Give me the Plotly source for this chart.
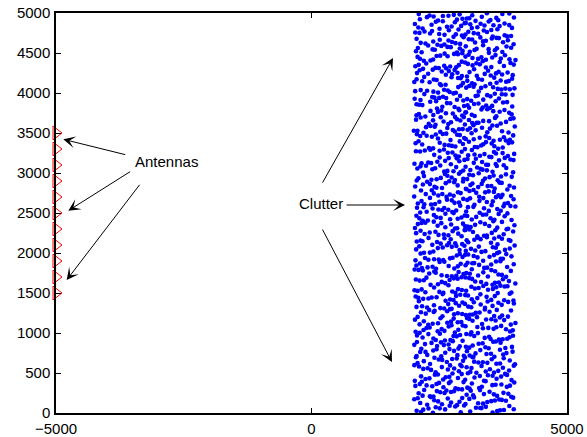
import plotly.graph_objects as go

# ---------------- data ----------------
antenna_x = [-5000, -5000, -5000, -5000, -5000, -5000, -5000, -5000, -5000, -5000, -5000]
antenna_y = [1500, 1700, 1900, 2100, 2300, 2500, 2700, 2900, 3100, 3300, 3500]

clutter_x = [
    2143,3871,2615,3302,2058,2987,3544,2431,3766,2290,3105,2812,3958,2376,3219,2704,3633,2509,3412,2921,2187,3690,2848,3327,
    3517,2264,3089,2731,3946,2402,3358,2079,2896,3672,2553,3181,2127,3805,2667,3440,2339,3013,3724,2478,2950,3261,2011,3589,
    2788,3632,2205,3374,2519,3908,2946,2097,3163,2641,3485,2317,3757,2872,3036,2453,3851,2174,3298,2730,3569,2386,3117,2604,
    3092,2446,3823,2159,3540,2690,3281,2033,2975,3716,2581,3407,2252,3139,2818,3968,2363,3602,2721,3050,2496,3884,2120,3334,
    2577,3295,2022,3789,2866,3453,2231,3061,2697,3915,2414,3190,2940,3622,2145,3376,2759,3544,2308,3826,2625,3007,2473,3711,
    3655,2104,3227,2792,3959,2340,3108,2551,3492,2013,2885,3746,2429,3327,2669,3036,3867,2273,3573,2938,2187,3410,2712,3131,
    2320,3762,2649,3148,2075,3527,2913,3880,2406,3265,2753,3619,2198,3004,3441,2557,3982,2842,3183,2044,3690,2491,3352,2966,
    3815,2539,3042,2266,3688,2981,2127,3424,2700,3579,2383,3210,2856,3935,2057,3303,2617,3751,2447,3096,2789,3512,2231,3169,
    2458,3349,2876,3607,2012,3088,2534,3923,2221,3467,2765,3154,2349,3794,2683,3022,3556,2149,3271,2901,3701,2590,3403,2063,
    3184,2719,3876,2287,3505,2065,2957,3390,2512,3668,2842,3109,2385,3943,2611,3257,2174,3741,2908,3476,2432,3030,3830,2779,
    2601,3460,2117,3712,2874,3246,2037,3563,2740,3939,2313,3128,2685,3807,2469,3355,2959,2192,3617,2806,3014,2547,3886,2250,
    3338,2025,2931,3686,2476,3152,2783,3901,2198,3519,2657,3043,2371,3770,2862,3239,2115,3602,2524,3991,2730,3087,2284,3417,
    2864,3575,2301,3098,2655,3843,2142,3392,2948,3730,2410,3215,2077,3484,2791,3626,2236,3021,3904,2563,3289,2710,3158,2391,
    3722,2262,3177,2597,3960,2888,3447,2055,3311,2742,3657,2164,3003,2521,3849,2397,3126,2823,3543,2102,3396,2676,3067,2955,
    2186,3063,2624,3879,2352,3518,2911,3245,2038,3771,2567,3137,2830,3644,2289,3426,2713,3009,3952,2448,3305,2091,3587,2779,
    3455,2816,3128,2075,3697,2503,3271,2942,3834,2228,3550,2681,3026,2399,3912,2155,3362,2754,3614,2016,3197,2581,3779,2867,
    2703,3989,2249,3319,2860,3542,2116,3085,2618,3746,2475,3204,2937,3667,2043,3421,2785,3864,2330,3143,2549,3013,3591,2198,
    3261,2431,3808,2097,2974,3593,2651,3137,2304,3726,2879,3452,2178,3029,2546,3901,2745,3362,2019,3659,2402,3098,2833,3518,
    2369,3147,2795,3611,2053,3437,2920,3828,2507,3280,2161,3054,2684,3958,2438,3696,2864,3185,2271,3516,2600,3380,3015,2122,
    3913,2578,3066,2222,3359,2844,3702,2135,3249,2490,3571,2956,2035,3812,2711,3174,2399,3633,2762,3007,2288,3484,2901,3745,
    2472,3327,2109,3786,2654,3020,3549,2317,3880,2835,3204,2568,3671,2048,2993,3402,2746,3121,2201,3608,2897,3975,2384,3275,
    3068,2725,3640,2290,3893,2528,3186,2060,3431,2813,3727,2364,3037,2601,3513,2172,3309,2948,3862,2457,3251,2691,2136,3576,
    2214,3597,2938,3160,2486,3819,2047,3376,2762,3670,2313,3012,2590,3946,2871,3245,2134,3528,2679,3090,3761,2425,3432,2996,
    3636,2081,3305,2850,3971,2540,3115,2393,3478,2732,3849,2227,3056,2965,3558,2619,3202,2025,3727,2468,3394,2809,2154,3007,
    2934,3418,2277,3780,2620,3136,2053,3504,2782,3915,2395,3223,2861,3663,2177,3047,2528,3352,2712,3834,2446,3580,2999,2110,
    2369,3027,3758,2558,3291,2193,3636,2910,3470,2065,2755,3893,2483,3168,2831,3525,2254,3377,2677,3990,2127,3062,3703,2597,
    3844,2652,3189,2318,3548,2081,2970,3431,2746,3705,2418,3103,2886,3287,2207,3955,2502,3610,2799,3049,2341,3362,2153,3779,
    2560,3282,2143,3657,2867,3035,3906,2395,3468,2708,3171,2010,3569,2919,2481,3832,2236,3399,2642,3093,3737,2354,3224,2781,
    3110,2445,3722,2029,2966,3585,2317,3263,2791,3876,2554,3149,2694,3447,2180,3021,3678,2408,3331,2860,3963,2262,3520,2627,
    2806,3564,2092,3357,2611,3919,2449,3087,2741,3644,2201,3273,2972,3485,2347,3805,2530,3160,2059,3709,2887,3395,2659,3046,
    3347,2183,3015,2778,3812,2520,3432,2071,2918,3626,2365,3242,2659,3945,2241,3108,2831,3543,2419,3762,2969,2132,3305,2597,
    2015,3670,2843,3176,2462,3521,2727,3892,2285,3052,3418,2616,3783,2154,2992,3339,2509,3605,2893,3217,2340,3953,2686,3455,
    3571,2401,3138,2883,3740,2044,3297,2592,3966,2758,3066,2217,3480,2939,3611,2325,3190,2507,3843,2668,3004,3385,2124,2817,
    2748,3857,2299,3415,2604,3195,2095,3653,2964,3320,2510,3742,2166,3081,2815,3526,2380,3925,2687,3246,2037,3578,2902,3360,
    3019,2569,3804,2128,3292,2851,3687,2356,3133,2476,3947,2720,3408,2063,2989,3563,2253,3764,2637,3175,2903,3477,2432,3883,
    2242,3440,2887,3631,2074,3101,2520,3978,2766,3337,2191,3540,2959,3729,2411,3212,2658,3855,2329,3056,3492,2804,3171,2003,
    3702,2913,2136,3268,2585,3891,2427,3081,2730,3592,2295,3360,2849,3002,3807,2529,3145,2046,3475,2677,3953,2378,3231,2981,
    2631,3193,3776,2384,3024,2810,3557,2102,3326,2949,3869,2540,3137,2227,3682,2766,3440,2055,3010,2892,3617,2473,3917,2329,
    3489,2055,2985,3749,2456,3267,2801,3603,2169,3084,2651,3928,2323,3418,2876,3182,2560,3826,2106,3350,2715,3535,2439,3054,
    2908,3362,2208,3669,2573,3124,3935,2406,3046,2779,3502,2133,3253,2635,3798,2971,2362,3438,2019,3587,2847,3212,2500,3725,
    2137,3555,2704,3088,3881,2477,3319,2029,2928,3646,2386,3171,2595,3971,2825,3403,2262,3028,3716,2536,3273,2871,3794,2667,
    3622,2449,3191,2918,3809,2057,3497,2740,3049,2311,3925,2624,3337,2166,3141,2868,3701,2513,3264,2012,3576,2965,2394,3860,
    2856,3235,2117,3730,2549,3042,3610,2372,3938,2688,3390,2205,3093,2801,3507,2064,3182,2629,3838,2943,3456,2282,3661,2754,
    3413,2098,3006,2635,3766,2246,3519,2940,3152,2427,3894,2714,3294,2183,3683,2597,3061,2831,3350,2032,3958,2491,3227,2883,
    2519,3874,2791,3150,2329,3600,2076,3413,2950,3705,2664,3075,2198,3537,2866,3260,2448,3992,2605,3324,2122,3786,3013,2380,
    3190,2661,3735,2282,3466,2044,3019,2847,3628,2414,3358,2957,3907,2155,3231,2540,3589,2725,3098,2369,3816,2082,3472,2902,
    2383,3529,2908,3304,2137,3842,2601,3078,2749,3667,2231,3412,2976,3201,2510,3955,2057,3357,2819,3622,2465,3143,3749,2681,
    3780,2212,3261,2877,3547,2031,3012,2688,3905,2359,3176,2779,3434,2498,3638,2944,2112,3372,2603,3069,3827,2320,3518,2825,
    2652,3107,3923,2433,3385,2175,2997,3681,2570,3245,2023,3561,2806,3137,2350,3778,2741,3468,2091,3019,3869,2505,3309,2929,
    3333,2846,2099,3617,2477,3146,2954,3870,2260,3501,2680,3039,3735,2390,3210,2785,3962,2121,3432,2571,3087,2899,3654,2310,
]

clutter_y = [
    12,87,45,63,29,94,5,71,38,56,19,82,47,3,66,91,24,58,77,9,42,33,98,61,
    148,103,176,131,192,159,117,184,140,168,109,195,125,153,181,136,199,112,164,145,187,121,172,157,
    271,214,288,236,259,203,295,247,222,281,265,208,252,299,229,274,241,217,286,263,233,206,278,250,
    305,362,327,391,348,374,313,339,386,357,321,398,345,369,309,382,334,353,394,317,376,342,361,329,
    418,463,402,489,437,471,425,496,452,411,478,444,486,429,458,404,493,466,433,476,447,415,482,455,
    527,581,503,556,592,539,514,574,547,598,521,566,509,588,543,572,531,559,506,584,551,519,595,563,
    612,685,638,699,623,671,604,657,690,631,675,616,648,694,627,664,609,681,642,696,619,668,635,652,
    749,708,773,726,791,715,762,738,799,704,781,745,723,767,711,786,754,731,797,718,776,741,764,702,
    838,871,805,894,852,817,883,826,861,809,898,844,876,813,857,829,891,802,866,834,879,849,821,887,
    963,911,947,986,925,970,904,939,992,917,958,981,932,966,907,999,944,921,975,953,913,988,929,961,
    1027,1064,1003,1089,1041,1075,1015,1052,1096,1033,1068,1009,1081,1046,1021,1059,1093,1037,1071,1006,1085,1049,1018,1063,
    1112,1167,1138,1194,1121,1153,1180,1105,1146,1172,1129,1189,1116,1161,1134,1198,1108,1157,1185,1125,1142,1176,1101,1169,
    1247,1213,1286,1229,1271,1205,1259,1294,1237,1218,1277,1252,1201,1266,1233,1289,1242,1224,1281,1209,1256,1298,1231,1263,
    1352,1318,1384,1307,1369,1341,1393,1326,1357,1302,1378,1335,1364,1311,1389,1347,1322,1373,1339,1396,1315,1361,1330,1382,
    1427,1468,1403,1491,1444,1414,1479,1436,1457,1409,1486,1422,1463,1499,1431,1452,1418,1474,1405,1446,1483,1439,1461,1412,
    1541,1503,1578,1526,1592,1514,1563,1537,1584,1509,1551,1597,1528,1569,1506,1545,1588,1519,1572,1534,1556,1501,1581,1548,
    1663,1618,1692,1637,1679,1604,1655,1686,1623,1671,1609,1644,1697,1631,1668,1614,1683,1649,1602,1676,1639,1694,1627,1659,
    1718,1754,1702,1789,1736,1771,1713,1797,1744,1726,1763,1706,1782,1749,1721,1776,1709,1758,1793,1731,1768,1741,1715,1786,
    1829,1871,1806,1894,1843,1817,1866,1825,1888,1851,1812,1879,1838,1860,1803,1897,1833,1874,1820,1856,1891,1814,1847,1868,
    1958,1912,1981,1937,1904,1969,1926,1993,1945,1918,1974,1950,1908,1986,1933,1962,1921,1998,1941,1977,1915,1954,1989,1929,
    2061,2014,2083,2039,2097,2026,2072,2005,2056,2088,2031,2068,2010,2045,2091,2023,2077,2052,2003,2065,2037,2094,2019,2080,
    2134,2171,2108,2189,2152,2117,2166,2143,2196,2121,2179,2102,2158,2185,2129,2147,2173,2111,2163,2138,2192,2125,2155,2182,
    2237,2284,2209,2262,2226,2297,2248,2215,2273,2203,2256,2289,2231,2268,2242,2208,2279,2251,2222,2294,2234,2265,2218,2286,
    2317,2361,2384,2309,2346,2373,2325,2392,2338,2356,2303,2379,2331,2367,2398,2321,2352,2313,2389,2341,2364,2306,2376,2334,
    2443,2482,2407,2459,2491,2418,2466,2435,2499,2412,2474,2451,2428,2487,2403,2462,2439,2478,2421,2495,2447,2415,2468,2433,
    2556,2519,2583,2538,2504,2571,2549,2592,2526,2565,2511,2587,2544,2577,2532,2598,2515,2559,2541,2581,2507,2573,2529,2562,
    2624,2667,2603,2689,2645,2618,2676,2637,2658,2696,2612,2683,2631,2652,2609,2672,2641,2698,2627,2664,2606,2686,2649,2615,
    2738,2703,2781,2722,2759,2796,2713,2745,2770,2731,2788,2706,2764,2749,2719,2793,2736,2758,2701,2775,2727,2784,2752,2716,
    2849,2815,2876,2832,2893,2807,2861,2824,2885,2841,2812,2869,2897,2836,2857,2803,2880,2827,2864,2845,2818,2891,2838,2873,
    2913,2968,2935,2904,2987,2952,2921,2979,2943,2909,2961,2996,2927,2948,2916,2983,2939,2972,2906,2957,2991,2931,2965,2924,
    3042,3005,3078,3021,3063,3094,3033,3056,3012,3087,3047,3069,3026,3008,3091,3038,3074,3015,3059,3097,3031,3083,3052,3019,
    3116,3158,3183,3127,3141,3199,3109,3168,3132,3175,3104,3152,3189,3121,3164,3137,3194,3113,3146,3178,3125,3161,3186,3102,
    3263,3227,3288,3206,3249,3272,3215,3294,3239,3257,3221,3281,3203,3266,3244,3291,3232,3278,3212,3254,3299,3236,3269,3218,
    3339,3374,3312,3386,3351,3325,3397,3304,3363,3343,3379,3318,3356,3391,3331,3368,3308,3383,3347,3322,3372,3334,3395,3359,
    3425,3488,3407,3462,3441,3479,3416,3453,3497,3432,3470,3411,3458,3484,3436,3403,3465,3447,3492,3421,3474,3438,3481,3414,
    3573,3508,3546,3591,3527,3559,3514,3582,3537,3566,3502,3594,3549,3521,3578,3533,3562,3506,3587,3541,3555,3518,3598,3529,
    3618,3657,3693,3629,3644,3676,3603,3662,3635,3689,3614,3651,3672,3607,3639,3696,3624,3667,3648,3611,3683,3658,3627,3699,
    3746,3712,3788,3725,3759,3701,3773,3737,3794,3718,3752,3781,3729,3706,3766,3743,3797,3721,3755,3784,3708,3762,3733,3776,
    3812,3859,3837,3882,3806,3868,3825,3896,3849,3815,3874,3831,3891,3843,3803,3862,3828,3886,3854,3819,3871,3839,3898,3846,
    3964,3917,3986,3931,3953,3903,3977,3942,3924,3995,3958,3911,3969,3936,3982,3907,3949,3973,3928,3991,3915,3961,3939,3984,
    4036,4071,4012,4088,4047,4005,4064,4023,4093,4051,4017,4079,4041,4058,4003,4085,4029,4067,4044,4097,4019,4074,4055,4031,
    4128,4163,4109,4185,4141,4172,4116,4197,4152,4134,4179,4103,4166,4146,4121,4188,4157,4113,4175,4138,4192,4125,4169,4149,
    4253,4216,4284,4231,4268,4207,4245,4292,4223,4274,4239,4201,4261,4287,4218,4249,4296,4228,4257,4212,4279,4241,4264,4234,
    4318,4352,4381,4309,4337,4369,4324,4392,4345,4314,4376,4331,4358,4302,4387,4341,4364,4321,4398,4335,4355,4311,4372,4348,
    4467,4421,4489,4438,4406,4474,4451,4415,4496,4432,4459,4478,4404,4443,4485,4426,4463,4411,4492,4447,4429,4471,4455,4418,
    4537,4576,4512,4594,4548,4521,4583,4505,4559,4541,4597,4527,4566,4509,4552,4589,4534,4573,4516,4545,4581,4563,4502,4556,
    4643,4681,4614,4695,4627,4659,4606,4672,4638,4686,4619,4653,4698,4631,4665,4609,4677,4645,4623,4689,4603,4668,4634,4656,
    4722,4768,4741,4793,4706,4756,4731,4784,4713,4775,4748,4702,4762,4737,4797,4719,4751,4781,4727,4766,4708,4744,4788,4733,
    4829,4858,4814,4891,4843,4806,4873,4836,4897,4821,4862,4847,4885,4811,4853,4869,4832,4894,4818,4876,4849,4803,4866,4839,
    4952,4917,4986,4939,4906,4971,4928,4994,4948,4913,4965,4931,4989,4956,4902,4977,4943,4921,4998,4962,4935,4983,4909,4968,
]

x_tick_vals = [-5000, 0, 5000]
x_tick_text = ["\u22125000", "0", "5000"]
y_tick_vals = [0, 500, 1000, 1500, 2000, 2500, 3000, 3500, 4000, 4500, 5000]
y_tick_text = ["0", "500", "1000", "1500", "2000", "2500", "3000", "3500", "4000", "4500", "5000"]

antenna_label = "Antennas"
clutter_label = "Clutter"

# ---------------- figure ----------------
FONT = "Liberation Sans, Arial, Helvetica, sans-serif"

fig = go.Figure()
fig.add_trace(go.Scatter(
    x=clutter_x, y=clutter_y, mode="markers",
    marker=dict(color="#0000ff", size=4.6, line=dict(width=0)),
    cliponaxis=False, hoverinfo="skip", name=clutter_label,
))
fig.add_trace(go.Scatter(
    x=antenna_x, y=antenna_y, mode="markers",
    marker=dict(symbol="triangle-right-open", color="#ff0000", size=12,
                line=dict(width=1, color="#ff0000")),
    cliponaxis=False, hoverinfo="skip", name=antenna_label,
))

axis_common = dict(
    showline=True, linecolor="black", linewidth=1.5, mirror="ticks",
    ticks="inside", ticklen=5, tickwidth=1, tickcolor="black",
    showgrid=False, zeroline=False, automargin=False,
    tickfont=dict(family=FONT, size=15, color="black"),
)
fig.update_xaxes(range=[-5000, 5000], tickvals=x_tick_vals, ticktext=x_tick_text,
                 ticklabelstandoff=1, **axis_common)
fig.update_yaxes(range=[0, 5000], tickvals=y_tick_vals, ticktext=y_tick_text,
                 ticklabelstandoff=1, **axis_common)


def arrow(x, y, ax, ay):
    return dict(x=x, y=y, ax=ax, ay=ay, xref="x", yref="y", axref="x", ayref="y",
                text="", showarrow=True, arrowhead=3, arrowsize=2, arrowwidth=1,
                arrowcolor="black", standoff=0, startstandoff=0)


annotations = [
    dict(x=-2847, y=3141, xref="x", yref="y", text=antenna_label, showarrow=False,
         font=dict(family=FONT, size=15, color="black")),
    arrow(-4857, 3421, -3616, 3225),
    arrow(-4759, 2529, -3519, 3029),
    arrow(-4791, 1662, -3342, 2871),
    dict(x=182, y=2620, xref="x", yref="y", text=clutter_label, showarrow=False,
         font=dict(family=FONT, size=15, color="black")),
    arrow(1595, 4437, 200, 2862),
    arrow(1830, 2600, 656, 2600),
    arrow(1575, 637, 200, 2312),
]

fig.update_layout(
    width=587, height=437,
    margin=dict(l=56, r=20, t=13, b=24),
    paper_bgcolor="white", plot_bgcolor="white",
    showlegend=False,
    font=dict(family=FONT, size=15, color="black"),
    annotations=annotations,
)

fig.write_html("out.html")
